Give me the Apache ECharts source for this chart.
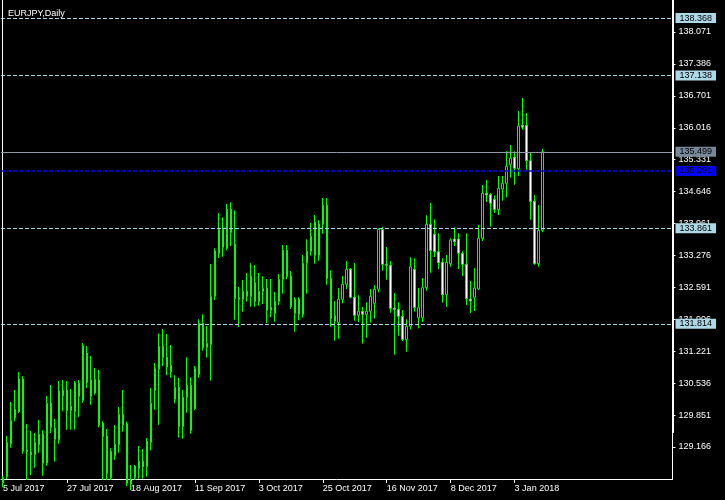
<!DOCTYPE html>
<html>
<head>
<meta charset="utf-8">
<script src="https://cdn.jsdelivr.net/npm/echarts@6/dist/echarts.min.js"></script>
<style>html,body{margin:0;padding:0;background:#000;}#c{width:725px;height:500px;}</style>
</head>
<body>
<div id="c"></div>
<script>
const symbolTitle = 'EURJPY,Daily';
const tickLabels = ['5 Jul 2017','27 Jul 2017','18 Aug 2017','11 Sep 2017','3 Oct 2017','25 Oct 2017','16 Nov 2017','8 Dec 2017','3 Jan 2018'];
const priceTicks = [138.071,137.386,136.701,136.016,135.331,134.646,133.961,133.276,132.591,131.906,131.221,130.536,129.851,129.166];
const opens = [128.500,128.528,129.237,129.794,129.923,130.625,129.101,129.058,129.000,129.215,129.438,128.816,130.103,129.567,129.322,130.266,130.382,129.953,129.932,130.532,130.168,131.176,130.603,130.324,130.603,129.674,129.395,128.507,128.979,129.215,129.867,129.659,128.372,128.507,128.708,128.859,128.743,129.266,130.382,130.833,131.326,131.090,130.918,130.189,130.447,129.610,130.231,130.489,129.987,130.725,131.820,131.305,131.369,132.399,133.322,133.837,133.429,134.266,133.516,132.369,132.335,132.507,132.391,132.691,132.292,132.507,132.571,132.099,132.035,132.292,132.764,133.387,132.829,132.035,132.335,132.013,133.108,133.365,133.987,133.279,133.951,134.352,132.786,131.983,131.841,132.335,132.657,132.979,132.378,131.992,132.078,132.013,132.078,132.249,132.550,133.837,133.086,133.065,132.148,132.120,131.970,131.476,131.756,132.979,131.940,131.940,132.584,133.945,133.730,133.357,133.129,132.434,133.099,133.629,133.629,133.322,133.086,132.341,132.378,132.556,133.644,134.610,134.582,134.481,134.266,134.702,134.824,135.232,135.382,135.137,136.069,136.069,135.309,134.438,133.099,133.816];
const closes = [128.400,129.266,129.738,129.974,130.625,129.086,129.065,129.000,129.266,129.438,128.816,130.103,129.588,129.331,130.367,130.382,129.953,130.039,130.539,130.253,131.333,130.554,130.253,130.618,129.644,129.395,128.601,129.073,129.223,129.867,129.644,128.393,128.436,128.758,128.859,128.743,129.287,130.103,130.854,131.326,131.090,130.888,130.780,130.447,129.610,130.231,130.489,129.524,130.854,131.820,131.305,131.391,132.399,133.372,133.837,133.451,134.266,133.773,132.348,132.335,132.507,132.399,132.829,132.292,132.507,132.571,132.099,132.163,132.292,132.764,133.387,132.829,132.176,132.335,132.013,133.108,133.365,133.687,133.279,133.951,134.352,132.786,131.927,131.863,132.335,132.657,132.979,132.378,131.992,132.078,132.013,132.078,132.399,132.550,133.837,133.086,133.065,132.142,132.120,131.970,131.476,131.756,133.035,132.155,132.155,132.584,133.945,133.378,133.357,133.121,132.434,133.129,133.608,133.572,133.322,133.086,132.348,132.299,132.578,133.644,134.610,134.573,134.395,134.266,134.717,134.824,135.189,135.361,135.146,136.054,136.026,135.309,134.438,133.099,133.816,135.499];
const lows = [128.300,128.479,129.151,129.717,129.895,129.022,128.457,128.564,128.721,129.043,128.549,128.764,129.466,128.850,129.237,129.932,129.537,129.537,129.537,129.816,130.116,130.432,130.073,130.288,129.588,128.457,128.457,128.457,128.893,129.043,129.494,128.328,128.243,128.457,128.485,128.485,128.528,129.095,129.966,129.644,130.904,130.704,130.652,130.103,129.365,129.343,129.902,129.451,129.959,130.652,131.232,131.082,130.588,132.320,133.221,133.249,133.387,133.479,131.897,131.747,132.069,132.284,132.176,132.176,132.198,132.234,131.826,131.955,131.854,132.213,132.455,132.764,132.127,131.640,131.884,131.940,132.455,133.271,133.099,133.163,133.743,132.648,131.747,131.447,131.490,132.249,132.556,132.356,131.876,131.848,131.383,131.511,131.833,131.919,132.485,132.949,132.756,132.047,131.146,131.554,131.439,131.211,131.689,132.069,131.711,131.848,132.520,132.906,133.243,132.985,132.262,132.170,133.035,133.479,132.985,132.835,132.213,132.041,132.084,132.535,133.586,134.423,133.893,134.187,134.144,134.451,134.524,134.946,134.794,134.981,135.975,135.116,134.043,133.078,133.035,133.773];
const highs = [128.544,129.401,130.131,130.389,130.775,130.683,129.659,129.509,129.466,129.745,129.524,130.260,130.496,129.766,130.582,130.603,130.582,130.410,130.582,130.603,131.397,131.333,131.118,130.861,130.818,129.717,129.552,129.137,129.637,130.024,130.389,129.709,128.779,128.779,129.187,129.122,129.358,130.432,130.968,131.605,131.698,131.590,131.354,130.704,130.646,130.389,131.090,130.661,130.904,131.906,132.013,131.762,133.093,133.429,134.187,134.095,134.380,134.417,134.245,132.599,132.749,132.899,133.108,133.071,132.899,132.828,132.771,132.771,132.492,132.878,133.500,133.500,132.942,132.378,132.378,133.286,133.623,133.972,134.144,134.030,134.509,134.509,132.957,132.299,132.578,132.835,133.157,133.007,133.114,132.421,132.170,132.271,132.556,132.642,133.859,133.887,133.458,133.157,132.470,132.271,132.105,131.906,133.236,133.215,132.578,132.792,134.138,134.402,134.052,133.751,133.215,133.286,133.644,133.880,133.751,133.365,133.751,132.728,133.007,133.930,134.788,134.895,134.616,134.566,134.981,134.981,135.511,135.646,135.511,136.376,136.655,136.333,135.496,134.573,134.359,135.561];
const levelLines = [138.368, 137.138, 133.861, 131.814];
const askLevel = 135.091;
const bidLevel = 135.499;
const emptySlots = 32;

const FONT = 'Liberation Sans';
const candleData = opens.map((o, i) => [o, closes[i], lows[i], highs[i]]);
const totalSlots = opens.length + emptySlots;
const categories = [];
for (let i = 0; i < totalSlots; i++) {
  const t = (i % 16 === 0) ? tickLabels[i / 16] : undefined;
  categories.push(t !== undefined ? t : ('b' + i));
}
const isTick = (idx) => idx % 16 === 0 && (idx / 16) < tickLabels.length;

function boxLabel(v, bg, fg) {
  const txt = v.toFixed(3);
  return {
    show: true, position: 'end', distance: 3,
    formatter: () => txt,
    backgroundColor: bg, color: fg, fontFamily: FONT, fontSize: 9,
    lineHeight: 10, padding: [0, 4]
  };
}
const markData = levelLines.map(v => ({
  yAxis: v,
  lineStyle: { color: '#add8e6', type: [4, 2], width: 1 },
  label: boxLabel(v, '#add8e6', '#000')
}));
markData.push({ yAxis: bidLevel, lineStyle: { color: '#8c9aa8', type: 'solid', width: 1 }, label: boxLabel(bidLevel, '#778899', '#000') });
markData.push({ yAxis: askLevel, lineStyle: { color: '#0000ff', type: [4, 2], width: 1.6 }, label: boxLabel(askLevel, '#0000ff', '#000') });

const chart = echarts.init(document.getElementById('c'), null, { renderer: 'canvas' });
chart.setOption({
  backgroundColor: '#000',
  animation: false,
  title: { text: symbolTitle, left: 3, top: 4, textStyle: { color: '#fff', fontFamily: FONT, fontSize: 9, fontWeight: 'normal' } },
  grid: { left: 0.5, top: 0, width: 672, height: 479, containLabel: false },
  graphic: [{ type: 'rect', z: 10, shape: { x: 672, y: 0, width: 2, height: 433 }, style: { fill: '#fff' }, silent: true }],
  xAxis: {
    type: 'category', data: categories, boundaryGap: true,
    axisLine: { lineStyle: { color: '#fff', width: 1 } },
    axisTick: { show: true, interval: (idx) => isTick(idx), alignWithLabel: true, length: 4, lineStyle: { color: '#fff' } },
    axisLabel: { interval: (idx) => isTick(idx), formatter: (v, idx) => isTick(idx) ? tickLabels[idx / 16] : '', color: '#fff', fontFamily: FONT, fontSize: 9, align: 'left', margin: 5 },
    splitLine: { show: false }
  },
  yAxis: [{
    type: 'value', position: 'right', min: 128.479, max: 138.758, scale: true,
    axisLine: { show: true, lineStyle: { color: '#fff', width: 1 } },
    axisTick: { show: true, length: 3, customValues: priceTicks, lineStyle: { color: '#fff' } },
    axisLabel: { customValues: priceTicks, formatter: (v) => Number(v).toFixed(3), color: '#fff', fontFamily: FONT, fontSize: 9, margin: 6 },
    splitLine: { show: false }
  }, {
    type: 'value', position: 'left', offset: -1.5, min: 128.479, max: 138.758,
    axisLine: { show: true, lineStyle: { color: '#fff', width: 1 } },
    axisTick: { show: false }, axisLabel: { show: false }, splitLine: { show: false }
  }],
  series: [{
    type: 'candlestick',
    data: candleData,
    barWidth: 2,
    clip: true,
    itemStyle: { color: '#000', color0: '#fff', borderColor: '#00ff00', borderColor0: '#00ff00', borderColorDoji: '#00ff00', borderWidth: 1 },
    emphasis: { disabled: true },
    markLine: { symbol: ['none', 'none'], silent: true, animation: false, data: markData }
  }]
});
</script>
</body>
</html>
